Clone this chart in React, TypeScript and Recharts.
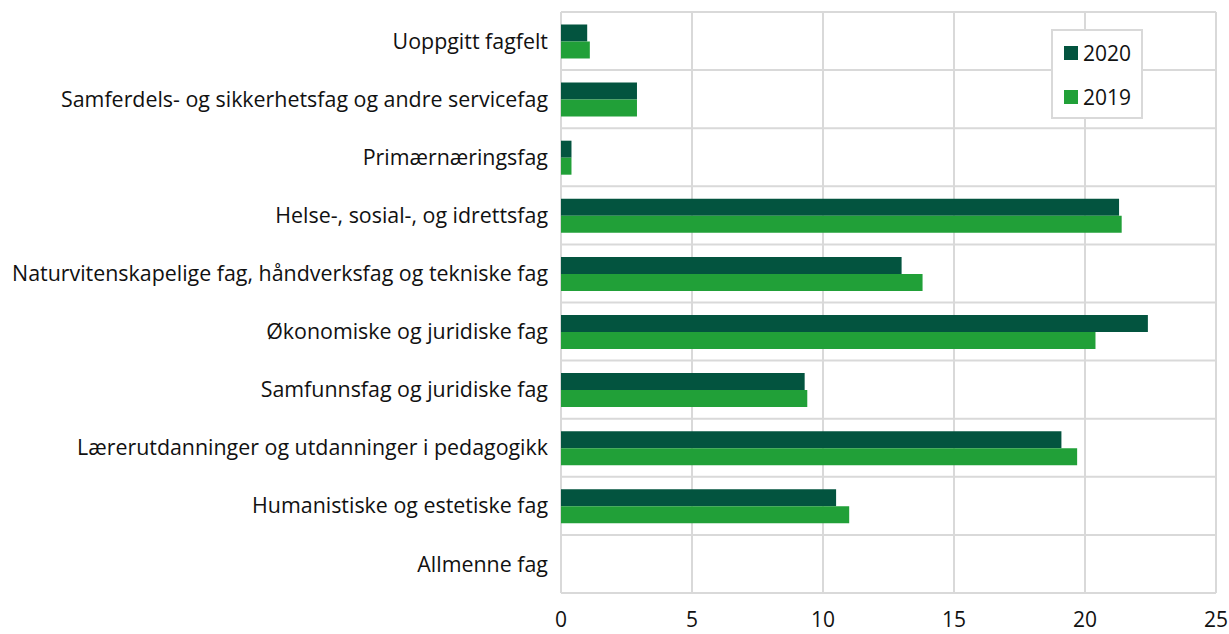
import React from "react";
import { BarChart, Bar, XAxis, YAxis, CartesianGrid } from "recharts";

const categories = [
  "Uoppgitt fagfelt",
  "Samferdels- og sikkerhetsfag og andre servicefag",
  "Primærnæringsfag",
  "Helse-, sosial-, og idrettsfag",
  "Naturvitenskapelige fag, håndverksfag og tekniske fag",
  "Økonomiske og juridiske fag",
  "Samfunnsfag og juridiske fag",
  "Lærerutdanninger og utdanninger i pedagogikk",
  "Humanistiske og estetiske fag",
  "Allmenne fag",
];
const values2020 = [1.0, 2.9, 0.4, 21.3, 13.0, 22.4, 9.3, 19.1, 10.5, 0];
const values2019 = [1.1, 2.9, 0.4, 21.4, 13.8, 20.4, 9.4, 19.7, 11.0, 0];
const xTicks = [0, 5, 10, 15, 20, 25];

const data = categories.map((name, i) => ({
  name,
  y2020: values2020[i],
  y2019: values2019[i],
}));

const DARK = "#03543f";
const LIGHT = "#21a038";
const GRID = "#d9d9d9";
const FONT = "'Open Sans', sans-serif";

function LegendBox() {
  const items = [
    { label: "2020", color: DARK },
    { label: "2019", color: LIGHT },
  ];
  return (
    <div
      style={{
        position: "absolute",
        left: 1051,
        top: 29,
        width: 88,
        height: 86,
        border: `2px solid ${GRID}`,
        background: "#fff",
      }}
    >
      {items.map((it) => (
        <div
          key={it.label}
          style={{ display: "flex", alignItems: "center", height: 44, paddingLeft: 11 }}
        >
          <span style={{ width: 14, height: 14, background: it.color, marginRight: 5 }} />
          <span style={{ fontSize: 21, color: "#111", fontFamily: FONT }}>{it.label}</span>
        </div>
      ))}
    </div>
  );
}

export default function App() {
  return (
    <div style={{ position: "absolute", left: 0, top: 0, width: 1229, height: 634, background: "#fff" }}>
      <BarChart
        width={1229}
        height={634}
        data={data}
        layout="vertical"
        margin={{ top: 12, right: 13, bottom: 0, left: 0 }}
        barCategoryGap="21.5%"
        barGap={0}
      >
        <CartesianGrid
          stroke={GRID}
          strokeWidth={2}
          horizontalCoordinatesGenerator={({ offset }: any) =>
            categories.map((_, i) => offset.top + (i * offset.height) / categories.length).concat(offset.top + offset.height)
          }
        />
        <XAxis
          type="number"
          domain={[0, 25]}
          ticks={xTicks}
          axisLine={false}
          tickLine={false}
          tickSize={0}
          tickMargin={19}
          height={41}
          tick={{ fontSize: 21, fill: "#111", fontFamily: FONT }}
          interval={0}
        />
        <YAxis
          type="category"
          dataKey="name"
          width={561}
          axisLine={false}
          tickLine={false}
          tickSize={0}
          tickMargin={13}
          interval={0}
          tick={{ fontSize: 21.4, fill: "#111", fontFamily: FONT }}
        />
        <Bar dataKey="y2020" name="2020" fill={DARK} isAnimationActive={false} />
        <Bar dataKey="y2019" name="2019" fill={LIGHT} isAnimationActive={false} />
      </BarChart>
      <LegendBox />
    </div>
  );
}
